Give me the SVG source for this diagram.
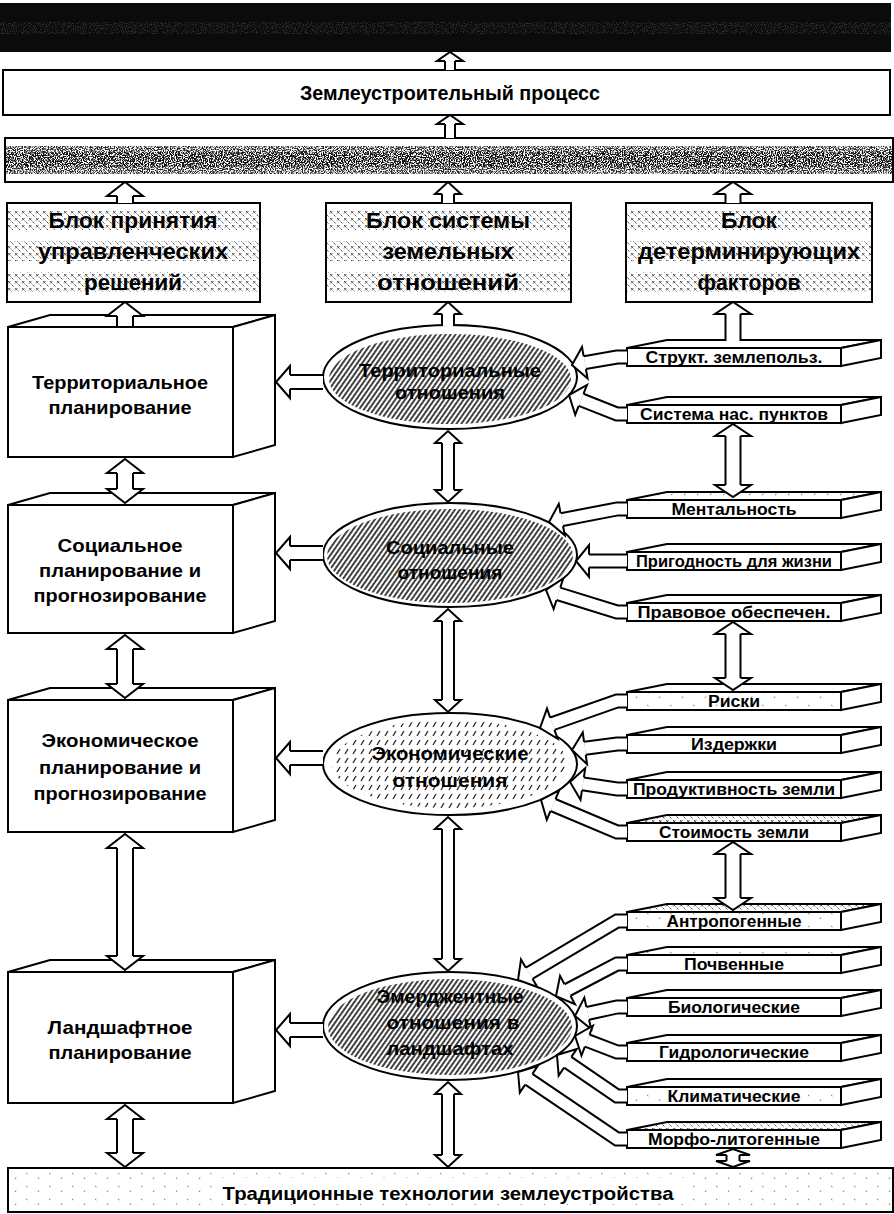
<svg xmlns="http://www.w3.org/2000/svg" width="894" height="1214" viewBox="0 0 894 1214">
<style>
text{font-family:"Liberation Sans",Arial,sans-serif;fill:#000;text-anchor:middle}
.tb{font-size:19px;font-weight:bold}
.tk{font-size:22px;font-weight:bold}
.te{font-size:19px;font-weight:bold}
.ts{font-size:16px;font-weight:bold}
.tt{font-size:20px;font-weight:bold}
.ln{fill:#fff;stroke:#000;stroke-width:2;stroke-linejoin:miter}
.oA{stroke:#000;stroke-width:18;fill:none}.iA{stroke:#fff;stroke-width:14;fill:none}
.oB{stroke:#000;stroke-width:14;fill:none}.iB{stroke:#fff;stroke-width:10;fill:none}
.oC{stroke:#000;stroke-width:17;fill:none}.iC{stroke:#fff;stroke-width:13;fill:none}
.oD{stroke:#000;stroke-width:16;fill:none}.iD{stroke:#fff;stroke-width:12;fill:none}
.oE{stroke:#000;stroke-width:15;fill:none;stroke-linejoin:miter}.iE{stroke:#fff;stroke-width:11;fill:none;stroke-linejoin:miter}
.oT{stroke:#000;stroke-width:12;fill:none}.iT{stroke:#fff;stroke-width:8;fill:none}
</style>
<defs>
<marker id="mA" markerUnits="userSpaceOnUse" orient="auto-start-reverse" markerWidth="44" markerHeight="44" viewBox="-4 -22 44 44" refX="0" refY="0"><path d="M0,-8 L0,-18 L14,0 L0,18 L0,8" fill="#fff" stroke="#000" stroke-width="2"/></marker>
<marker id="mB" markerUnits="userSpaceOnUse" orient="auto-start-reverse" markerWidth="44" markerHeight="44" viewBox="-4 -22 44 44" refX="0" refY="0"><path d="M0,-6 L0,-13 L12,0 L0,13 L0,6" fill="#fff" stroke="#000" stroke-width="2"/></marker>
<marker id="mC" markerUnits="userSpaceOnUse" orient="auto-start-reverse" markerWidth="44" markerHeight="44" viewBox="-4 -22 44 44" refX="0" refY="0"><path d="M0,-7.5 L0,-18 L12,0 L0,18 L0,7.5" fill="#fff" stroke="#000" stroke-width="2"/></marker>
<marker id="mD" markerUnits="userSpaceOnUse" orient="auto-start-reverse" markerWidth="44" markerHeight="44" viewBox="-4 -22 44 44" refX="0" refY="0"><path d="M0,-7 L0,-16 L14,0 L0,16 L0,7" fill="#fff" stroke="#000" stroke-width="2"/></marker>
<marker id="mE" markerUnits="userSpaceOnUse" orient="auto-start-reverse" markerWidth="44" markerHeight="44" viewBox="-4 -22 44 44" refX="0" refY="0"><path d="M0,-6.5 L0,-16 L13,0 L0,16 L0,6.5" fill="#fff" stroke="#000" stroke-width="2"/></marker>
<marker id="mT" markerUnits="userSpaceOnUse" orient="auto-start-reverse" markerWidth="44" markerHeight="44" viewBox="-4 -22 44 44" refX="0" refY="0"><path d="M0,-5 L0,-13 L9,0 L0,13 L0,5" fill="#fff" stroke="#000" stroke-width="2"/></marker>
<marker id="mF" markerUnits="userSpaceOnUse" orient="auto-start-reverse" markerWidth="44" markerHeight="44" viewBox="-4 -22 44 44" refX="0" refY="0"><path d="M0,-6.5 L0,-17 L6,0 L0,17 L0,6.5" fill="#fff" stroke="#000" stroke-width="2"/></marker>
<pattern id="hatch" width="4" height="4" patternUnits="userSpaceOnUse" patternTransform="rotate(35)"><rect width="4" height="4" fill="#fff"/><line x1="1" y1="0" x2="1" y2="4" stroke="#111" stroke-width="1.6"/></pattern>
<pattern id="hatch2" width="8" height="9" patternUnits="userSpaceOnUse"><rect width="8" height="9" fill="#fff"/><path d="M1,7 L4,2" stroke="#222" stroke-width="1.3"/></pattern>
<pattern id="xdots" width="7" height="7" patternUnits="userSpaceOnUse"><rect width="7" height="7" fill="#fff"/><path d="M1,1 L3.5,3.5 M3.5,1 L1,3.5 M4.5,4.5 L6.5,6.5" stroke="#555" stroke-width="1"/></pattern>
<pattern id="specks" width="13" height="7" patternUnits="userSpaceOnUse"><rect width="13" height="7" fill="#fff"/><path d="M2,2 l1,1 M8,5 l1.5,-1" stroke="#666" stroke-width="1"/></pattern>
<pattern id="sparse" width="23" height="13" patternUnits="userSpaceOnUse"><rect width="23" height="13" fill="#fff"/><path d="M3,3 l1.5,1 M15,9 l1,-1.5" stroke="#777" stroke-width="1"/></pattern>
<filter id="grainB" x="0" y="0" width="100%" height="100%"><feTurbulence type="fractalNoise" baseFrequency="0.85" numOctaves="2" seed="7" result="n"/><feColorMatrix in="n" type="matrix" values="0 0 0 0 0 0 0 0 0 0 0 0 0 0 0 0 0 0 -5 3" result="a"/><feComposite in="a" in2="SourceGraphic" operator="in"/></filter>
<filter id="grainW" x="0" y="0" width="100%" height="100%"><feTurbulence type="fractalNoise" baseFrequency="0.9" numOctaves="2" seed="3" result="n"/><feColorMatrix in="n" type="matrix" values="0 0 0 0 1 0 0 0 0 1 0 0 0 0 1 0 0 0 -6 3" result="a"/><feComposite in="a" in2="SourceGraphic" operator="in"/></filter>
</defs>

<!-- top dark bar -->
<g id="top-bar">
<rect x="0" y="3" width="891" height="49" fill="#0b0b0b"/>
<rect x="0" y="22" width="891" height="12" fill="#fff" filter="url(#grainW)" opacity="0.14"/>
</g>

<g id="process">
<rect x="3" y="70" width="887" height="45" class="ln"/>
<text class="tt" x="450" y="100" textLength="300" lengthAdjust="spacingAndGlyphs">Землеустроительный процесс</text>
</g>

<g id="second-bar">
<rect x="5" y="138" width="888" height="44" class="ln"/>
<rect x="6" y="146" width="886" height="28" fill="#000" filter="url(#grainB)" opacity="0.85"/>
<rect x="6" y="152" width="886" height="15" fill="#000" filter="url(#grainB)" opacity="0.8"/>
</g>

<g id="block-decisions">
<rect x="7" y="203" width="253" height="99" class="ln"/>
<rect x="8" y="210" width="251" height="20" fill="url(#xdots)"/>
<rect x="8" y="241" width="251" height="20" fill="url(#xdots)"/>
<rect x="8" y="272" width="251" height="20" fill="url(#xdots)"/>
<rect x="7" y="203" width="253" height="99" fill="none" stroke="#000" stroke-width="2"/>
<text class="tk" x="133" y="228" textLength="169" lengthAdjust="spacingAndGlyphs">Блок принятия</text>
<text class="tk" x="133" y="259" textLength="190" lengthAdjust="spacingAndGlyphs">управленческих</text>
<text class="tk" x="133" y="290" textLength="98" lengthAdjust="spacingAndGlyphs">решений</text>
</g>

<g id="block-relations">
<rect x="326" y="203" width="245" height="99" class="ln"/>
<rect x="327" y="210" width="243" height="20" fill="url(#xdots)"/>
<rect x="327" y="241" width="243" height="20" fill="url(#xdots)"/>
<rect x="327" y="272" width="243" height="20" fill="url(#xdots)"/>
<rect x="326" y="203" width="245" height="99" fill="none" stroke="#000" stroke-width="2"/>
<text class="tk" x="448" y="228" textLength="164" lengthAdjust="spacingAndGlyphs">Блок системы</text>
<text class="tk" x="448" y="259" textLength="131" lengthAdjust="spacingAndGlyphs">земельных</text>
<text class="tk" x="448" y="290" textLength="142" lengthAdjust="spacingAndGlyphs">отношений</text>
</g>

<g id="block-factors">
<rect x="626" y="203" width="246" height="99" class="ln"/>
<rect x="627" y="210" width="244" height="20" fill="url(#xdots)"/>
<rect x="627" y="241" width="244" height="20" fill="url(#xdots)"/>
<rect x="627" y="272" width="244" height="20" fill="url(#xdots)"/>
<rect x="626" y="203" width="246" height="99" fill="none" stroke="#000" stroke-width="2"/>
<text class="tk" x="749" y="228" textLength="56" lengthAdjust="spacingAndGlyphs">Блок</text>
<text class="tk" x="749" y="259" textLength="222" lengthAdjust="spacingAndGlyphs">детерминирующих</text>
<text class="tk" x="749" y="290" textLength="103" lengthAdjust="spacingAndGlyphs">факторов</text>
</g>

<!-- 3D planning boxes -->
<g id="box-territorial">
<rect x="8" y="327" width="225" height="130" class="ln"/>
<polygon points="8,327 50,315 275,315 233,327" class="ln"/>
<polygon points="233,327 275,315 275,445 233,457" class="ln"/>
<text class="tb" x="120" y="389" textLength="176" lengthAdjust="spacingAndGlyphs">Территориальное</text>
<text class="tb" x="120" y="414" textLength="143" lengthAdjust="spacingAndGlyphs">планирование</text>
</g>
<g id="box-social">
<rect x="8" y="505" width="225" height="128" class="ln"/>
<polygon points="8,505 50,493 275,493 233,505" class="ln"/>
<polygon points="233,505 275,493 275,621 233,633" class="ln"/>
<text class="tb" x="120" y="552" textLength="125" lengthAdjust="spacingAndGlyphs">Социальное</text>
<text class="tb" x="120" y="577" textLength="162" lengthAdjust="spacingAndGlyphs">планирование и</text>
<text class="tb" x="120" y="602" textLength="173" lengthAdjust="spacingAndGlyphs">прогнозирование</text>
</g>
<g id="box-economic">
<rect x="8" y="700" width="225" height="132" class="ln"/>
<polygon points="8,700 50,688 275,688 233,700" class="ln"/>
<polygon points="233,700 275,688 275,820 233,832" class="ln"/>
<text class="tb" x="120" y="747" textLength="157" lengthAdjust="spacingAndGlyphs">Экономическое</text>
<text class="tb" x="120" y="774" textLength="162" lengthAdjust="spacingAndGlyphs">планирование и</text>
<text class="tb" x="120" y="800" textLength="173" lengthAdjust="spacingAndGlyphs">прогнозирование</text>
</g>
<g id="box-landscape">
<rect x="8" y="972" width="225" height="131" class="ln"/>
<polygon points="8,972 50,960 275,960 233,972" class="ln"/>
<polygon points="233,972 275,960 275,1091 233,1103" class="ln"/>
<text class="tb" x="120" y="1034" textLength="145" lengthAdjust="spacingAndGlyphs">Ландшафтное</text>
<text class="tb" x="120" y="1059" textLength="143" lengthAdjust="spacingAndGlyphs">планирование</text>
</g>

<!-- ellipses -->
<g id="ell-territorial">
<ellipse cx="450" cy="377" rx="127" ry="52" fill="#fff"/>
<ellipse cx="450" cy="379" rx="121" ry="45" fill="url(#hatch)"/>
<text class="te" x="450" y="377" textLength="182" lengthAdjust="spacingAndGlyphs">Территориальные</text>
<text class="te" x="450" y="399" textLength="110" lengthAdjust="spacingAndGlyphs">отношения</text>
<ellipse cx="450" cy="377" rx="127" ry="52" fill="none" stroke="#000" stroke-width="2"/>
</g>
<g id="ell-social">
<ellipse cx="450" cy="555" rx="127" ry="52" fill="#fff"/>
<ellipse cx="450" cy="556" rx="123" ry="47" fill="url(#hatch)"/>
<text class="te" x="450" y="554" textLength="128" lengthAdjust="spacingAndGlyphs">Социальные</text>
<text class="te" x="450" y="579" textLength="105" lengthAdjust="spacingAndGlyphs">отношения</text>
<ellipse cx="450" cy="555" rx="127" ry="52" fill="none" stroke="#000" stroke-width="2"/>
</g>
<g id="ell-economic">
<ellipse cx="450" cy="764" rx="127" ry="51" fill="#fff"/>
<ellipse cx="450" cy="764" rx="118" ry="44" fill="url(#hatch2)"/>
<text class="te" x="450" y="760" textLength="157" lengthAdjust="spacingAndGlyphs">Экономические</text>
<text class="te" x="450" y="787" textLength="115" lengthAdjust="spacingAndGlyphs">отношения</text>
<ellipse cx="450" cy="764" rx="127" ry="51" fill="none" stroke="#000" stroke-width="2"/>
</g>
<g id="ell-emergent">
<ellipse cx="450" cy="1026" rx="127" ry="54" fill="#fff"/>
<ellipse cx="450" cy="1027" rx="122" ry="48" fill="url(#hatch)"/>
<text class="te" x="450" y="1003" textLength="147" lengthAdjust="spacingAndGlyphs">Эмерджентные</text>
<text class="te" x="453" y="1029" textLength="133" lengthAdjust="spacingAndGlyphs">отношения в</text>
<text class="te" x="450" y="1055" textLength="127" lengthAdjust="spacingAndGlyphs">ландшафтах</text>
<ellipse cx="450" cy="1026" rx="127" ry="54" fill="none" stroke="#000" stroke-width="2"/>
</g>

<!-- factor slabs -->
<g id="f-struct"><polygon points="627,348 667,340 881,340 841,348" class="ln"/><polygon points="841,348 881,340 881,358 841,366" class="ln"/><rect x="627" y="348" width="214" height="18" class="ln"/><text class="ts" x="734" y="363" textLength="177" lengthAdjust="spacingAndGlyphs">Структ. землепольз.</text></g>
<g id="f-settle"><polygon points="627,405 667,397 881,397 841,405" class="ln"/><polygon points="841,405 881,397 881,415 841,423" class="ln"/><rect x="627" y="405" width="214" height="18" class="ln"/><text class="ts" x="734" y="420" textLength="188" lengthAdjust="spacingAndGlyphs">Система нас. пунктов</text></g>
<g id="f-mental"><polygon points="627,500 667,492 881,492 841,500" class="ln" style="fill:url(#specks)"/><polygon points="841,500 881,492 881,510 841,518" class="ln"/><rect x="627" y="500" width="214" height="18" class="ln"/><text class="ts" x="734" y="515" textLength="125" lengthAdjust="spacingAndGlyphs">Ментальность</text></g>
<g id="f-living"><polygon points="627,552 667,544 881,544 841,552" class="ln"/><polygon points="841,552 881,544 881,562 841,570" class="ln"/><rect x="627" y="552" width="214" height="18" class="ln"/><text class="ts" x="734" y="567" textLength="196" lengthAdjust="spacingAndGlyphs">Пригодность для жизни</text></g>
<g id="f-legal"><polygon points="627,603 667,595 881,595 841,603" class="ln"/><polygon points="841,603 881,595 881,613 841,621" class="ln"/><rect x="627" y="603" width="214" height="18" class="ln"/><text class="ts" x="734" y="618" textLength="193" lengthAdjust="spacingAndGlyphs">Правовое обеспечен.</text></g>
<g id="f-risks"><polygon points="627,692 667,684 881,684 841,692" class="ln"/><polygon points="841,692 881,684 881,702 841,710" class="ln"/><rect x="627" y="692" width="214" height="18" class="ln" style="fill:url(#sparse)"/><text class="ts" x="734" y="707" textLength="52" lengthAdjust="spacingAndGlyphs">Риски</text></g>
<g id="f-costs"><polygon points="627,735 667,727 881,727 841,735" class="ln"/><polygon points="841,735 881,727 881,745 841,753" class="ln"/><rect x="627" y="735" width="214" height="18" class="ln"/><text class="ts" x="734" y="750" textLength="86" lengthAdjust="spacingAndGlyphs">Издержки</text></g>
<g id="f-product"><polygon points="627,780 667,772 881,772 841,780" class="ln"/><polygon points="841,780 881,772 881,790 841,798" class="ln"/><rect x="627" y="780" width="214" height="18" class="ln"/><text class="ts" x="734" y="795" textLength="202" lengthAdjust="spacingAndGlyphs">Продуктивность земли</text></g>
<g id="f-value"><polygon points="627,823 667,815 881,815 841,823" class="ln" style="fill:url(#xdots)"/><polygon points="841,823 881,815 881,833 841,841" class="ln"/><rect x="627" y="823" width="214" height="18" class="ln"/><text class="ts" x="734" y="838" textLength="150" lengthAdjust="spacingAndGlyphs">Стоимость земли</text></g>
<g id="f-anthro"><polygon points="627,912 667,904 881,904 841,912" class="ln" style="fill:url(#xdots)"/><polygon points="841,912 881,904 881,922 841,930" class="ln"/><rect x="627" y="912" width="214" height="18" class="ln" style="fill:url(#sparse)"/><text class="ts" x="734" y="927" textLength="135" lengthAdjust="spacingAndGlyphs">Антропогенные</text></g>
<g id="f-soil"><polygon points="627,955 667,947 881,947 841,955" class="ln" style="fill:url(#sparse)"/><polygon points="841,955 881,947 881,965 841,973" class="ln"/><rect x="627" y="955" width="214" height="18" class="ln"/><text class="ts" x="734" y="970" textLength="100" lengthAdjust="spacingAndGlyphs">Почвенные</text></g>
<g id="f-bio"><polygon points="627,998 667,990 881,990 841,998" class="ln"/><polygon points="841,998 881,990 881,1008 841,1016" class="ln"/><rect x="627" y="998" width="214" height="18" class="ln"/><text class="ts" x="734" y="1013" textLength="132" lengthAdjust="spacingAndGlyphs">Биологические</text></g>
<g id="f-hydro"><polygon points="627,1043 667,1035 881,1035 841,1043" class="ln"/><polygon points="841,1043 881,1035 881,1053 841,1061" class="ln"/><rect x="627" y="1043" width="214" height="18" class="ln"/><text class="ts" x="734" y="1058" textLength="150" lengthAdjust="spacingAndGlyphs">Гидрологические</text></g>
<g id="f-climate"><polygon points="627,1087 667,1079 881,1079 841,1087" class="ln"/><polygon points="841,1087 881,1079 881,1097 841,1105" class="ln"/><rect x="627" y="1087" width="214" height="18" class="ln" style="fill:url(#sparse)"/><text class="ts" x="734" y="1102" textLength="133" lengthAdjust="spacingAndGlyphs">Климатические</text></g>
<g id="f-morpho"><polygon points="627,1130 667,1122 881,1122 841,1130" class="ln" style="fill:url(#xdots)"/><polygon points="841,1130 881,1122 881,1140 841,1148" class="ln"/><rect x="627" y="1130" width="214" height="18" class="ln"/><text class="ts" x="734" y="1145" textLength="172" lengthAdjust="spacingAndGlyphs">Морфо-литогенные</text></g>

<g id="bottom-bar">
<rect x="8" y="1168" width="885" height="44" class="ln" style="fill:url(#sparse)"/>
<rect x="215" y="1178" width="470" height="26" fill="#fff"/>
<rect x="8" y="1168" width="885" height="44" fill="none" stroke="#000" stroke-width="2"/>
<text class="tb" x="448" y="1200" textLength="451" lengthAdjust="spacingAndGlyphs">Традиционные технологии землеустройства</text>
</g>

<!-- connectors -->
<g id="connectors">
<path class="oT" d="M450,70 L450,61"/><path class="iT" d="M450,70 L450,61" marker-end="url(#mT)"/>
<path class="oT" d="M450,138 L450,124"/><path class="iT" d="M450,138 L450,124" marker-end="url(#mT)"/>
<path class="oA" d="M125,203 L125,196"/><path class="iA" d="M125,203 L125,196" marker-end="url(#mA)"/>
<path class="oB" d="M448,203 L448,194"/><path class="iB" d="M448,203 L448,194" marker-end="url(#mB)"/>
<path class="oC" d="M733,203 L733,194"/><path class="iC" d="M733,203 L733,194" marker-end="url(#mC)"/>
<path class="oA" d="M125,326 L125,316"/><path class="iA" d="M125,326 L125,316" marker-end="url(#mA)"/>
<path class="oB" d="M448,326 L448,314"/><path class="iB" d="M448,326 L448,314" marker-end="url(#mB)"/>
<path class="oC" d="M733,341 L733,314"/><path class="iC" d="M733,341 L733,314" marker-end="url(#mC)"/>
<path class="oA" d="M125,473 L125,489"/><path class="iA" d="M125,473 L125,489" marker-start="url(#mA)" marker-end="url(#mA)"/>
<path class="oA" d="M125,649 L125,684"/><path class="iA" d="M125,649 L125,684" marker-start="url(#mA)" marker-end="url(#mA)"/>
<path class="oA" d="M125,848 L125,956"/><path class="iA" d="M125,848 L125,956" marker-start="url(#mA)" marker-end="url(#mA)"/>
<path class="oA" d="M125,1119 L125,1153"/><path class="iA" d="M125,1119 L125,1153" marker-start="url(#mA)" marker-end="url(#mA)"/>
<path class="oB" d="M448,443 L448,490"/><path class="iB" d="M448,443 L448,490" marker-start="url(#mB)" marker-end="url(#mB)"/>
<path class="oB" d="M448,621 L448,700"/><path class="iB" d="M448,621 L448,700" marker-start="url(#mB)" marker-end="url(#mB)"/>
<path class="oB" d="M448,829 L448,959"/><path class="iB" d="M448,829 L448,959" marker-start="url(#mB)" marker-end="url(#mB)"/>
<path class="oB" d="M448,1094 L448,1155"/><path class="iB" d="M448,1094 L448,1155" marker-start="url(#mB)" marker-end="url(#mB)"/>
<path class="oC" d="M733,436 L733,485"/><path class="iC" d="M733,436 L733,485" marker-start="url(#mC)" marker-end="url(#mC)"/>
<path class="oC" d="M733,634 L733,678"/><path class="iC" d="M733,634 L733,678" marker-start="url(#mC)" marker-end="url(#mC)"/>
<path class="oC" d="M733,854 L733,898"/><path class="iC" d="M733,854 L733,898" marker-start="url(#mC)" marker-end="url(#mC)"/>
<path class="oE" d="M733,1155 L733,1161"/><path class="iE" d="M733,1155 L733,1161" marker-start="url(#mF)" marker-end="url(#mF)"/>
<path class="oD" d="M323,382 L290,382"/><path class="iD" d="M323,382 L290,382" marker-end="url(#mD)"/>
<path class="oD" d="M323,553 L290,553"/><path class="iD" d="M323,553 L290,553" marker-end="url(#mD)"/>
<path class="oD" d="M323,758 L290,758"/><path class="iD" d="M323,758 L290,758" marker-end="url(#mD)"/>
<path class="oD" d="M323,1030 L290,1030"/><path class="iD" d="M323,1030 L290,1030" marker-end="url(#mD)"/>
<path class="oE" d="M627,357 L617,357 L584.8,362.7"/><path class="iE" d="M627,357 L617,357 L584.8,362.7" marker-end="url(#mE)"/>
<path class="oE" d="M627,414 L617,414 L581.1,399.8"/><path class="iE" d="M627,414 L617,414 L581.1,399.8" marker-end="url(#mE)"/>
<path class="oE" d="M627,509 L617,509 L561.8,519.6"/><path class="iE" d="M627,509 L617,509 L561.8,519.6" marker-end="url(#mE)"/>
<path class="oE" d="M627,561 L589,561"/><path class="iE" d="M627,561 L589,561" marker-end="url(#mE)"/>
<path class="oE" d="M627,612 L617,612 L558.4,593.8"/><path class="iE" d="M627,612 L617,612 L558.4,593.8" marker-end="url(#mE)"/>
<path class="oE" d="M627,701 L617,701 L552.3,723.7"/><path class="iE" d="M627,701 L617,701 L552.3,723.7" marker-end="url(#mE)"/>
<path class="oE" d="M627,744 L617,744 L584.9,748.3"/><path class="iE" d="M627,744 L617,744 L584.9,748.3" marker-end="url(#mE)"/>
<path class="oE" d="M627,789 L617,789 L582.9,783.9"/><path class="iE" d="M627,789 L617,789 L582.9,783.9" marker-end="url(#mE)"/>
<path class="oE" d="M627,832 L617,832 L553,805"/><path class="iE" d="M627,832 L617,832 L553,805" marker-end="url(#mE)"/>
<path class="oE" d="M627,921 L617,921 L529.2,973.3"/><path class="iE" d="M627,921 L617,921 L529.2,973.3" marker-end="url(#mE)"/>
<path class="oE" d="M627,964 L617,964 L567.5,990"/><path class="iE" d="M627,964 L617,964 L567.5,990" marker-end="url(#mE)"/>
<path class="oE" d="M627,1007 L617,1007 L587.7,1013.3"/><path class="iE" d="M627,1007 L617,1007 L587.7,1013.3" marker-end="url(#mE)"/>
<path class="oE" d="M627,1052 L617,1052 L587.2,1040.6"/><path class="iE" d="M627,1052 L617,1052 L587.2,1040.6" marker-end="url(#mE)"/>
<path class="oE" d="M627,1096 L617,1096 L567.7,1062.3"/><path class="iE" d="M627,1096 L617,1096 L567.7,1062.3" marker-end="url(#mE)"/>
<path class="oE" d="M627,1139 L617,1139 L528.8,1079.3"/><path class="iE" d="M627,1139 L617,1139 L528.8,1079.3" marker-end="url(#mE)"/>
</g>
</svg>
